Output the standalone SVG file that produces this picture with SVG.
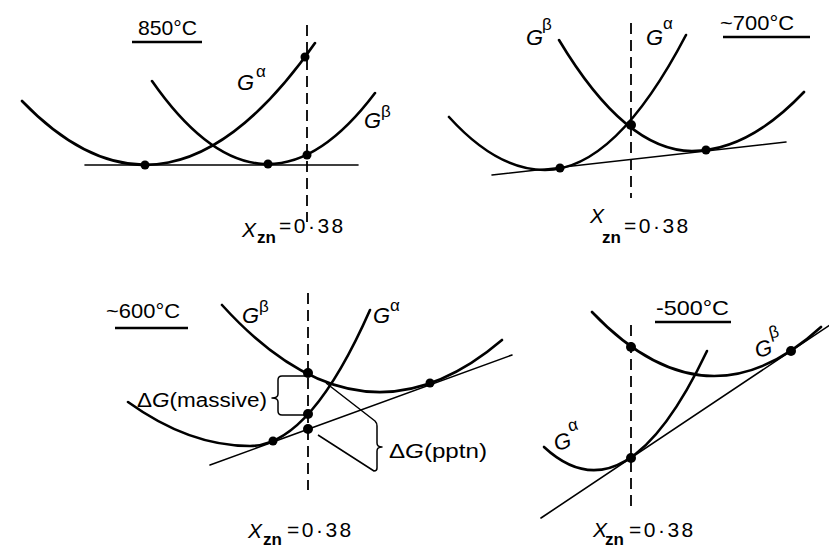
<svg xmlns="http://www.w3.org/2000/svg" width="829" height="548" viewBox="0 0 829 548">
<style>
  .curve{fill:none;stroke:#000;stroke-width:2.6;stroke-linecap:round}
  .tan{fill:none;stroke:#000;stroke-width:1.6;stroke-linecap:round}
  .dash{fill:none;stroke:#000;stroke-width:1.8;stroke-dasharray:11 6}
  .ul{fill:none;stroke:#000;stroke-width:2.6}
  .br{fill:none;stroke:#000;stroke-width:1.5;stroke-linejoin:round}
  .dot{fill:#000}
  text{font-family:"Liberation Sans","DejaVu Sans",sans-serif;fill:#000}
  .t{font-size:21px}
  .g{font-size:22px;font-style:italic}
  .sup{font-size:17px}
  .x{font-size:21px;font-style:italic}
  .sub{font-size:17px;font-weight:bold}
  .lab{font-size:20px}
</style>
<rect width="829" height="548" fill="#fff"/>

<!-- Panel 1: 850 C -->
<g id="panel-850">
  <g id="curves-850">
    <path class="curve" d="M22,101 Q168.5,253 315,43"/>
    <path class="curve" d="M152,81 Q263.5,241 375,93"/>
    <path class="tan" d="M85,165 H358"/>
    <path class="dash" d="M307,25 V222"/>
  </g>
  <circle class="dot" cx="145" cy="165" r="4.5"/>
  <circle class="dot" cx="268" cy="164" r="4.5"/>
  <circle class="dot" cx="307" cy="155" r="4.5"/>
  <circle class="dot" cx="305" cy="57" r="4.5"/>
  <text class="t" x="138" y="35" textLength="59" lengthAdjust="spacingAndGlyphs">850°C</text>
  <path class="ul" d="M132,42 H202"/>
  <text class="g" x="237" y="90">G<tspan class="sup" x="256" y="77" font-style="normal">α</tspan></text>
  <text class="g" x="364" y="128">G<tspan class="sup" x="381" y="117" font-style="normal">β</tspan></text>
  <text class="x" x="242" y="237">X<tspan class="sub" x="257" y="243" font-style="normal">zn</tspan><tspan class="t" x="279" y="233" font-style="normal" letter-spacing="2.5">=0·38</tspan></text>
</g>

<!-- Panel 2: ~700 C -->
<g id="panel-700">
  <g id="curves-700">
    <path class="curve" d="M559,40 Q625.5,151 692,151 Q748,151 804,92"/>
    <path class="curve" d="M449,117 Q497,170 545,170 Q615.5,170 686,35"/>
    <path class="tan" d="M492,175 L786,142"/>
    <path class="dash" d="M631,23 V198"/>
  </g>
  <circle class="dot" cx="560" cy="168" r="4.5"/>
  <circle class="dot" cx="631" cy="125" r="5"/>
  <circle class="dot" cx="706" cy="150" r="4.5"/>
  <text class="t" x="720" y="30" textLength="74" lengthAdjust="spacingAndGlyphs">~700°C</text>
  <path class="ul" d="M723,37 H810"/>
  <text class="g" x="526" y="45">G<tspan class="sup" x="542" y="30" font-style="normal">β</tspan></text>
  <text class="g" x="646" y="45">G<tspan class="sup" x="663" y="29" font-style="normal">α</tspan></text>
  <text class="x" x="590" y="223" font-size="13">X<tspan class="sub" x="602" y="243" font-style="normal">zn</tspan><tspan class="t" x="624" y="233" font-style="normal" letter-spacing="2.5">=0·38</tspan></text>
</g>

<!-- Panel 3: ~600 C -->
<g id="panel-600">
  <g id="curves-600">
    <path class="curve" d="M222,305 Q362,459.4 502,340"/>
    <path class="curve" d="M128,402 Q189,446 250,446 Q310,446 370,310"/>
    <path class="tan" d="M210,465 L512,355"/>
    <path class="dash" d="M308,293 V490"/>
    <path class="br" d="M308,376 H282 Q278,376 278,380 V394 Q278,398 272,398 Q278,398 278,402 V411 Q278,415 282,415 H308"/>
    <path class="br" d="M326,383 L375,421 Q377,423 377,426 V443 Q377,447 382,447 Q377,447 377,451 V468 Q377,471 374,471 L318,435"/>
  </g>
  <circle class="dot" cx="308" cy="373" r="5"/>
  <circle class="dot" cx="308" cy="414" r="5"/>
  <circle class="dot" cx="308" cy="429" r="5"/>
  <circle class="dot" cx="273" cy="441" r="4.5"/>
  <circle class="dot" cx="430" cy="383" r="4.5"/>
  <text class="t" x="106" y="318" textLength="74" lengthAdjust="spacingAndGlyphs">~600°C</text>
  <path class="ul" d="M115,328 H188"/>
  <text class="g" x="242" y="323">G<tspan class="sup" x="259" y="312" font-style="normal">β</tspan></text>
  <text class="g" x="373" y="323">G<tspan class="sup" x="390" y="311" font-style="normal">α</tspan></text>
  <text class="lab" x="137" y="407" textLength="130" lengthAdjust="spacingAndGlyphs">Δ<tspan font-style="italic">G</tspan>(massive)</text>
  <text class="lab" x="389" y="458" textLength="98" lengthAdjust="spacingAndGlyphs">Δ<tspan font-style="italic">G</tspan>(pptn)</text>
  <text class="x" x="248" y="538">X<tspan class="sub" x="263" y="545" font-style="normal">zn</tspan><tspan class="t" x="287" y="537" font-style="normal" letter-spacing="2.5">=0·38</tspan></text>
</g>

<!-- Panel 4: -500 C -->
<g id="panel-500">
  <g id="curves-500">
    <path class="curve" d="M592,312 Q706.5,432 821,327"/>
    <path class="curve" d="M544,447 Q625.5,522.7 707,351"/>
    <path class="tan" d="M541,518 L829,325.6"/>
    <path class="dash" d="M631,325 V510"/>
  </g>
  <circle class="dot" cx="631" cy="347" r="5"/>
  <circle class="dot" cx="631" cy="458" r="5"/>
  <circle class="dot" cx="791" cy="351" r="5"/>
  <text class="t" x="656" y="315" textLength="73" lengthAdjust="spacingAndGlyphs">-500°C</text>
  <path class="ul" d="M655,322 H731"/>
  <text class="g" x="757" y="358" transform="rotate(-15 757 358)">G<tspan class="sup" x="775" y="343" font-style="normal">β</tspan></text>
  <text class="g" x="556" y="451" transform="rotate(-15 556 451)">G<tspan class="sup" x="574" y="436" font-style="normal">α</tspan></text>
  <text class="x" x="593" y="537">X<tspan class="sub" x="605" y="545" font-style="normal">zn</tspan><tspan class="t" x="629" y="537" font-style="normal" letter-spacing="2.5">=0·38</tspan></text>
</g>
</svg>
